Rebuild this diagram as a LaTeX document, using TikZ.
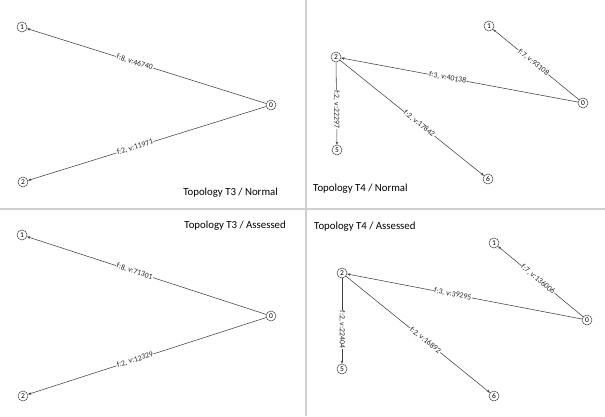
\documentclass[tikz,border=0pt]{standalone}
\usepackage{fontspec}
\setmainfont{Carlito}
\usetikzlibrary{arrows.meta}
\definecolor{edgecol}{HTML}{404040}
\definecolor{sepcol}{HTML}{CFCFCF}
\tikzset{
  vtx/.style={draw=edgecol, circle, line width=0.5pt, inner sep=0pt, minimum size=10pt, font=\fontsize{7.5}{8}\selectfont, fill=white},
  edg/.style={draw=edgecol, line width=0.55pt, -{Stealth[length=3.2pt,width=2.6pt]}},
  elab/.style={fill=white, inner sep=0.6pt, font=\fontsize{7.8}{8}\selectfont, text=black!85},
  ttl/.style={font=\fontsize{10.8}{12}\selectfont, text=black, inner sep=0pt},
  sep/.style={draw=sepcol, line width=1.3pt}
}
\begin{document}
\begin{tikzpicture}[x=1pt,y=-1pt]
\useasboundingbox (0,0) rectangle (605,416);
% separators
\coordinate (hl) at (0,209);
\coordinate (hr) at (605,209);
\coordinate (vt) at (306,0);
\coordinate (vb) at (306,416);
\draw[sep] (hl) -- (hr);
\draw[sep] (vt) -- (vb);

% ---- T3 Normal
\node[vtx] (a1) at (22,27) {1};
\node[vtx] (a0) at (271,105) {0};
\node[vtx] (a2) at (23,182) {2};
\draw[edg] (a0) -- node[elab, sloped, pos=0.55] {f:8, v:46740} (a1);
\draw[edg] (a0) -- node[elab, sloped, pos=0.55] {f:2, v:11971} (a2);
\node[ttl, anchor=east] (t1) at (278,193) {Topology T3 / Normal};

% ---- T4 Normal
\node[vtx] (b1) at (489,26) {1};
\node[vtx] (b2) at (336,57) {2};
\node[vtx] (b0) at (583,103) {0};
\node[vtx] (b5) at (337,150) {5};
\node[vtx] (b6) at (488,179) {6};
\draw[edg] (b0) -- node[elab, sloped, pos=0.53] {f:7, v:93108} (b1);
\draw[edg] (b0) -- node[elab, sloped, pos=0.55] {f:3, v:40138} (b2);
\draw[edg] (b2) -- node[elab, rotate=-90, pos=0.57] {f:2, v:22297} (b5);
\draw[edg] (b2) -- node[elab, sloped, pos=0.55] {f:2, v:17842} (b6);
\node[ttl, anchor=west] (t2) at (313,189) {Topology T4 / Normal};

% ---- T3 Assessed
\node[vtx] (c1) at (22,235) {1};
\node[vtx] (c0) at (271,316) {0};
\node[vtx] (c2) at (23,396) {2};
\draw[edg] (c0) -- node[elab, sloped, pos=0.55] {f:8, v:71301} (c1);
\draw[edg] (c0) -- node[elab, sloped, pos=0.55] {f:2, v:12329} (c2);
\node[ttl, anchor=east] (t3) at (286,226) {Topology T3 / Assessed};

% ---- T4 Assessed
\node[vtx] (d1) at (494,243) {1};
\node[vtx] (d2) at (342,273) {2};
\node[vtx] (d0) at (587,320) {0};
\node[vtx] (d5) at (342,369) {5};
\node[vtx] (d6) at (494,396) {6};
\draw[edg] (d0) -- node[elab, sloped, pos=0.53] {f:7, v:136006} (d1);
\draw[edg] (d0) -- node[elab, sloped, pos=0.55] {f:3, v:39295} (d2);
\draw[edg] (d2) -- node[elab, rotate=-90, pos=0.6] {f:2, v:22404} (d5);
\draw[edg] (d2) -- node[elab, sloped, pos=0.55] {f:2, v:16892} (d6);
\node[ttl, anchor=west] (t4) at (314,227) {Topology T4 / Assessed};
\end{tikzpicture}
\end{document}
